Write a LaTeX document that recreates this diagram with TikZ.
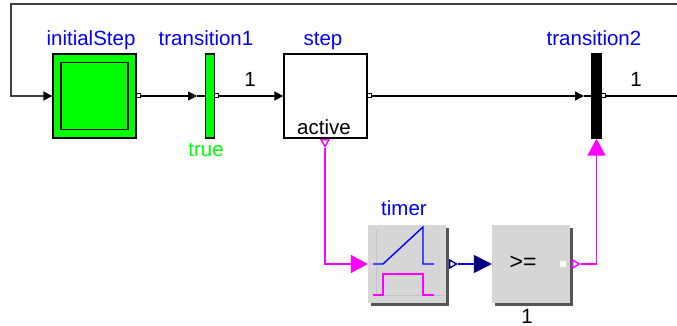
\documentclass[tikz,border=0pt]{standalone}
\usepackage{xcolor}
\usepackage{fontspec}
\setmainfont{Liberation Sans}
\usetikzlibrary{shapes.geometric, arrows.meta, positioning, calc, shadows}
\definecolor{SfcGreen}{RGB}{0, 255, 0}
\definecolor{SfcBlue}{RGB}{0, 0, 255}
\definecolor{SfcNavy}{RGB}{0, 0, 128}
\definecolor{SfcPink}{RGB}{255, 0, 255}
\definecolor{SfcFace}{RGB}{214, 214, 214}
\definecolor{SfcAxis}{RGB}{196, 196, 196}
\definecolor{SfcEdge}{RGB}{85, 85, 85}
\tikzset{
  lbl/.style={font=\fontsize{20.5}{22}\selectfont, text=SfcBlue, inner sep=0pt, anchor=base},
  txt/.style={font=\fontsize{20.5}{22}\selectfont, text=black, inner sep=0pt, anchor=base},
  stepbox/.style={draw=black, line width=1.4pt, fill=white, minimum width=83pt, minimum height=84pt, inner sep=0pt},
  barbox/.style={draw=black, line width=1.4pt, minimum width=9pt, minimum height=84pt, inner sep=0pt},
  mathbox/.style={fill=SfcFace, minimum width=78pt, minimum height=78pt, inner sep=0pt,
    drop shadow={shadow xshift=3pt, shadow yshift=-3pt, fill=SfcEdge, opacity=1}},
  sqport/.style={draw=black, line width=1pt, fill=white, minimum size=4pt, inner sep=0pt},
  triport/.style={regular polygon, regular polygon sides=3, draw=#1, line width=1.4pt, fill=white, minimum size=9pt, inner sep=0pt},
  flow/.style={draw=black, line width=1.4pt, -{Triangle[length=9pt, width=9pt, color=black]}},
  wire/.style={draw=black, line width=1.4pt},
  sig/.style={draw=SfcPink, line width=1.6pt, -{Triangle[length=17pt, width=18pt]}}
}
\begin{document}
\begin{tikzpicture}[x=1pt, y=-1pt]
  \useasboundingbox (0,0) rectangle (677,326);

  % blocks
  \node[stepbox, fill=SfcGreen] (initialStep) at (94.5,96) {};
  \node[draw=black, line width=1.6pt, minimum size=67pt, inner sep=0pt] (initialInner) at (94.5,96) {};
  \node[barbox, fill=SfcGreen] (transitionA) at (210,96) {};
  \node[stepbox] (stepA) at (325.5,96) {};
  \node[barbox, fill=black] (transitionB) at (596.5,96) {};
  \node[mathbox] (timer) at (407,264) {};
  \node[mathbox] (compare) at (531,264) {};

  % labels
  \node[lbl] (initialLbl) at (91,46) {initialStep};
  \node[lbl] (transALbl) at (206,46) {transition1};
  \node[lbl] (stepLbl) at (323,46) {step};
  \node[lbl] (transBLbl) at (594,46) {transition2};
  \node[lbl] (timerLbl) at (404,215) {timer};
  \node[txt, text=SfcGreen] (trueLbl) at (206,157) {true};
  \node[txt] (oneA) at (250,87) {1};
  \node[txt] (oneB) at (636,87) {1};
  \node[txt] (activeLbl) at (324,135) {active};
  \node[txt] (oneC) at (527,323) {1};
  \node[txt, anchor=center, font=\fontsize{23}{24}\selectfont] (geLbl) at (523,263) {>=};

  % ports
  \node[sqport] (initialOut) at (138,96) {};
  \node[sqport] (transAOut) at (216.5,96) {};
  \node[sqport] (stepOut) at (369,96) {};
  \node[sqport] (transBOut) at (603,96) {};
  \node[triport=SfcPink, shape border rotate=180] (activeOut) at (325,142) {};
  \node[triport=SfcNavy, shape border rotate=-90] (timerOut) at (452,264) {};
  \node[triport=SfcPink, shape border rotate=-90] (compareOut) at (575,264) {};
  \node[fill=white!85!SfcFace, minimum size=6pt, inner sep=0pt] (compareDot) at (563,264) {};

  % free ends and the points where the small heads stop
  \coordinate (exitEnd) at (677,96);
  \coordinate (loopRight) at (677,4);
  \coordinate (loopLeft) at (11,4);
  \coordinate (transAIn) at (197,96);
  \coordinate (transBIn) at (584,96);

  % connectors
  \draw[flow] (initialOut.east) -- (transAIn);
  \draw[wire] (transAIn) -- (transitionA.west);
  \draw[flow] (transAOut.east) -- (stepA.west);
  \draw[flow] (stepOut.east) -- (transBIn);
  \draw[wire] (transBIn) -- (transitionB.west);
  \draw[wire] (transBOut.east) -- (exitEnd);
  \draw[flow, draw=black!75, line width=1.8pt] (loopRight) -- (loopLeft) |- (initialStep.west);
  \draw[sig] (activeOut.south) |- (timer.west);
  \draw[sig] (compareOut.east) -| (transitionB.south);
  \draw[draw=SfcBlue, line width=1.5pt, -{Triangle[length=18pt, width=18pt, color=SfcNavy]}] (timerOut.east) -- (compare.west);

  % timer icon
  \draw[SfcAxis, line width=1pt] (376,230) -- (376,295) -- (445,295);
  \draw[SfcBlue, line width=1.4pt] (373,264) -- (383,264) -- (423,227) -- (423,264) -- (434,264);
  \draw[SfcPink, line width=1.4pt] (373,295) -- (383,295) -- (383,274) -- (423,274) -- (423,295) -- (434,295);
\end{tikzpicture}
\end{document}
